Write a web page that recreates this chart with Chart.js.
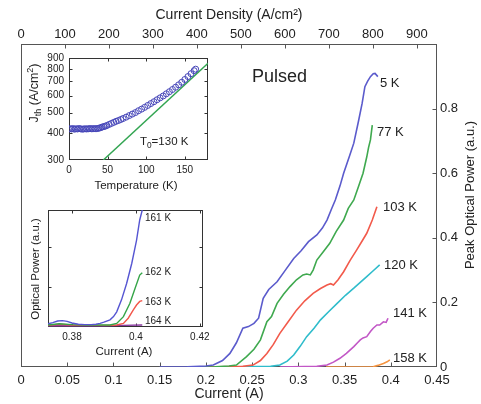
<!DOCTYPE html>
<html><head><meta charset="utf-8">
<script src="https://cdn.jsdelivr.net/npm/chart.js@4/dist/chart.umd.min.js"></script>
<style>
html,body{margin:0;padding:0;background:#fff;}
#wrap{position:relative;width:481px;height:404px;overflow:hidden;background:#fff}
canvas{position:absolute;left:0;top:0}
</style></head><body>
<div id="wrap">
<canvas id="main" width="481" height="404"></canvas>
<canvas id="inset1" width="481" height="404"></canvas>
<canvas id="inset2" width="481" height="404"></canvas>
</div>
<script>
// ================= DATA =================
const currentTicks = [0, 0.05, 0.1, 0.15, 0.2, 0.25, 0.3, 0.35, 0.4, 0.45];
const densityTicks = [0, 100, 200, 300, 400, 500, 600, 700, 800, 900];
const powerTicks = [0, 0.2, 0.4, 0.6, 0.8];
const tempLabels = ['5 K', '77 K', '103 K', '120 K', '141 K', '158 K'];

const cur5K = [0.15, 0.18, 0.20, 0.208, 0.218, 0.226, 0.233, 0.240, 0.246, 0.252, 0.257, 0.262, 0.268, 0.277, 0.286, 0.295, 0.303, 0.311, 0.320, 0.326, 0.331, 0.336, 0.340, 0.345, 0.349, 0.355, 0.360, 0.365, 0.369, 0.372, 0.375, 0.378, 0.381, 0.383, 0.386];
const pow5K = [0, 0.001, 0.003, 0.006, 0.020, 0.042, 0.075, 0.120, 0.125, 0.135, 0.151, 0.213, 0.240, 0.264, 0.300, 0.336, 0.360, 0.388, 0.409, 0.430, 0.455, 0.490, 0.517, 0.560, 0.600, 0.650, 0.693, 0.760, 0.816, 0.868, 0.885, 0.899, 0.908, 0.909, 0.899];

const cur77K = [0.18, 0.21, 0.225, 0.233, 0.244, 0.252, 0.259, 0.266, 0.271, 0.277, 0.284, 0.291, 0.298, 0.305, 0.309, 0.313, 0.316, 0.320, 0.327, 0.334, 0.341, 0.349, 0.354, 0.360, 0.365, 0.370, 0.374, 0.376, 0.378, 0.380];
const pow77K = [0, 0.001, 0.003, 0.006, 0.032, 0.055, 0.084, 0.140, 0.156, 0.197, 0.225, 0.249, 0.270, 0.285, 0.288, 0.285, 0.300, 0.331, 0.357, 0.383, 0.420, 0.455, 0.491, 0.517, 0.558, 0.600, 0.650, 0.680, 0.703, 0.749];

const cur103K = [0.20, 0.24, 0.251, 0.259, 0.266, 0.273, 0.280, 0.289, 0.298, 0.307, 0.316, 0.324, 0.331, 0.335, 0.338, 0.343, 0.349, 0.356, 0.363, 0.369, 0.374, 0.380, 0.385];
const pow103K = [0, 0.002, 0.006, 0.020, 0.042, 0.070, 0.104, 0.140, 0.176, 0.205, 0.228, 0.243, 0.254, 0.258, 0.254, 0.270, 0.295, 0.330, 0.362, 0.390, 0.414, 0.455, 0.496];

const cur120K = [0.22, 0.27, 0.280, 0.288, 0.295, 0.302, 0.309, 0.317, 0.324, 0.333, 0.342, 0.351, 0.360, 0.367, 0.374, 0.381, 0.388];
const pow120K = [0, 0.002, 0.006, 0.018, 0.037, 0.064, 0.094, 0.120, 0.146, 0.172, 0.197, 0.222, 0.244, 0.262, 0.280, 0.298, 0.316];

const cur141K = [0.28, 0.320, 0.331, 0.338, 0.345, 0.352, 0.360, 0.364, 0.367, 0.370, 0.374, 0.378, 0.381, 0.385, 0.388, 0.392, 0.395, 0.397];
const pow141K = [0, 0.002, 0.006, 0.015, 0.027, 0.042, 0.063, 0.075, 0.084, 0.090, 0.094, 0.110, 0.120, 0.130, 0.130, 0.140, 0.138, 0.151];

const cur158K = [0.33, 0.375, 0.381, 0.386, 0.392, 0.396, 0.399];
const pow158K = [0, 0, 0.001, 0.005, 0.011, 0.016, 0.022];

// Inset 1: threshold current density vs temperature
const insetTempTicks = [0, 50, 100, 150];
const insetJTicks = [300, 400, 500, 600, 700, 800, 900];
const insetTemps = [1, 3, 5, 7, 9, 11, 13, 15, 17, 19, 21, 23, 25, 27, 29, 31, 33, 35, 37, 39, 41, 43, 45, 47, 49, 52, 55, 58, 61, 64, 67, 70, 74, 78, 82, 86, 90, 94, 98, 102, 106, 110, 114, 118, 122, 126, 130, 134, 138, 142, 146, 150, 154, 158, 162, 164];
const insetJth = [420, 419, 421, 418, 420, 419, 421, 420, 418, 419, 420, 419, 420, 421, 420, 420, 421, 420, 421, 423, 425, 428, 430, 432, 435, 440, 445, 450, 455, 459, 464, 469, 476, 484, 492, 500, 510, 519, 529, 540, 551, 562, 574, 586, 598, 612, 626, 641, 657, 674, 693, 714, 737, 760, 785, 798];
const fitTemps = [44.5, 180];
const fitJth = [300, 851];

// Inset 2: optical power near threshold
const zoomCurrentTicks = [0.38, 0.4, 0.42];
const zoomPowerTicks = [1, 2];
const zoomLabels = ['161 K', '162 K', '163 K', '164 K'];
const cur161 = [0.3725, 0.374, 0.3755, 0.377, 0.3785, 0.380, 0.382, 0.384, 0.386, 0.3875, 0.3888, 0.3900, 0.3919, 0.3930, 0.3940, 0.3955, 0.3971, 0.3987, 0.4002, 0.4012, 0.4020];
const pow161 = [0.08, 0.11, 0.15, 0.16, 0.14, 0.10, 0.07, 0.06, 0.06, 0.07, 0.09, 0.12, 0.18, 0.26, 0.38, 0.68, 1.09, 1.59, 2.17, 2.68, 2.93];
const cur162 = [0.3725, 0.376, 0.380, 0.384, 0.388, 0.3905, 0.3919, 0.3940, 0.3961, 0.3981, 0.3997, 0.4012, 0.4020];
const pow162 = [0.05, 0.08, 0.06, 0.05, 0.05, 0.05, 0.05, 0.09, 0.26, 0.59, 0.96, 1.30, 1.36];
const cur163 = [0.3725, 0.376, 0.380, 0.385, 0.390, 0.3930, 0.3940, 0.3961, 0.3976, 0.3992, 0.4002, 0.4012, 0.4020];
const pow163 = [0.04, 0.07, 0.05, 0.04, 0.04, 0.04, 0.05, 0.09, 0.22, 0.43, 0.55, 0.64, 0.66];
const cur164 = [0.3725, 0.378, 0.384, 0.390, 0.396, 0.4020];
const pow164 = [0.03, 0.03, 0.03, 0.03, 0.04, 0.05];

// ================= STYLE / LAYOUT =================
const FONT = "'Liberation Sans', Arial, Helvetica, sans-serif";
Chart.defaults.font.family = FONT;
Chart.defaults.color = '#222';
const mainColors = ['#5b5bcc', '#3fa94f', '#f25a4b', '#2fbccb', '#c257c6', '#f59440'];
const zoomColors = ['#5555d2', '#35a548', '#f2564a', '#8a3aa0'];

const pts = (xs, ys) => xs.map((x, i) => ({x: x, y: ys[i]}));
const setTicks = arr => scale => { scale.ticks = arr.map(v => ({value: v})); };
const fmt = v => (v === 0 ? '0' : String(Number(v.toFixed(2))));

const framePlugin = {
  id: 'frame',
  beforeDatasetsDraw(chart, args, o) {
    const {ctx, chartArea: a} = chart;
    ctx.save();
    ctx.strokeStyle = o.color; ctx.lineWidth = 1;
    const L = Math.round(a.left) + 0.5, R = Math.round(a.right) - 0.5;
    const T = Math.round(a.top) + 0.5, B = Math.round(a.bottom) - 0.5;
    ctx.strokeRect(L, T, R - L, B - T);
    ctx.beginPath();
    (o.ticks || []).forEach(cfg => {
      const s = chart.scales[cfg.id];
      s.ticks.forEach(t => {
        const p = Math.round(s.getPixelForValue(t.value)) + 0.5;
        if (s.isHorizontal()) {
          if (p < L + 1 || p > R - 1) return;
          cfg.sides.forEach(side => {
            const y0 = side === 'top' ? T : B, d = side === 'top' ? o.len : -o.len;
            ctx.moveTo(p, y0); ctx.lineTo(p, y0 + d);
          });
        } else {
          if (p < T + 1 || p > B - 1) return;
          cfg.sides.forEach(side => {
            const x0 = side === 'left' ? L : R, d = side === 'left' ? o.len : -o.len;
            ctx.moveTo(x0, p); ctx.lineTo(x0 + d, p);
          });
        }
      });
    });
    ctx.stroke();
    ctx.restore();
  }
};

const textPlugin = {
  id: 'texts',
  afterDraw(chart, args, o) {
    const ctx = chart.ctx;
    (o.items || []).forEach(it => {
      ctx.save();
      ctx.translate(it.x, it.y);
      if (it.rot) ctx.rotate(it.rot);
      const runs = typeof it.text === 'string' ? [{t: it.text}] : it.text;
      let w = 0;
      const ms = runs.map(r => {
        const s = (r.sub || r.sup) ? it.size * 0.72 : it.size;
        ctx.font = (it.weight || 'normal') + ' ' + s + 'px ' + FONT;
        const m = ctx.measureText(r.t).width; w += m;
        return {r: r, s: s, m: m};
      });
      let x = it.align === 'center' ? -w / 2 : (it.align === 'right' ? -w : 0);
      ctx.fillStyle = it.color || '#222';
      ctx.textBaseline = 'middle'; ctx.textAlign = 'left';
      ms.forEach(q => {
        ctx.font = (it.weight || 'normal') + ' ' + q.s + 'px ' + FONT;
        const dy = q.r.sub ? it.size * 0.32 : (q.r.sup ? -it.size * 0.36 : 0);
        ctx.fillText(q.r.t, x, dy); x += q.m;
      });
      ctx.restore();
    });
  }
};

const lineDs = (label, data, color, w) => ({
  label: label, data: data, borderColor: color, backgroundColor: color,
  borderWidth: w, pointRadius: 0, showLine: true, tension: 0, fill: false
});

// ================= MAIN CHART =================
const mainSeries = [[cur5K, pow5K], [cur77K, pow77K], [cur103K, pow103K], [cur120K, pow120K], [cur141K, pow141K], [cur158K, pow158K]];
const labelPos = [[380, 83], [377, 132], [383, 207], [384, 265], [393, 313], [393, 358]];

new Chart(document.getElementById('main'), {
  type: 'scatter',
  data: { datasets: mainSeries.map((s, i) => lineDs(tempLabels[i], pts(s[0], s[1]), mainColors[i], 1.6)) },
  options: {
    responsive: false, animation: false, events: [],
    layout: { padding: { left: 21, top: 0, right: 0, bottom: 0 } },
    plugins: {
      legend: { display: false }, tooltip: { enabled: false },
      frame: { color: '#555', len: 4, ticks: [
        {id: 'x', sides: ['bottom']}, {id: 'x2', sides: ['top']}, {id: 'y', sides: ['right']}
      ]},
      texts: { items: [
        {text: 'Pulsed', x: 252, y: 77, size: 18, align: 'left'},
        ...tempLabels.map((t, i) => ({text: t, x: labelPos[i][0], y: labelPos[i][1], size: 13, align: 'left'})),
        {text: 'Peak Optical Power (a.u.)', x: 470, y: 195, size: 13, align: 'center', rot: -Math.PI / 2}
      ]}
    },
    scales: {
      x: {
        type: 'linear', position: 'bottom', min: 0, max: 0.45,
        afterBuildTicks: setTicks(currentTicks),
        afterFit: s => { s.height = 37; },
        grid: { display: false, drawTicks: false }, border: { display: false },
        ticks: { padding: 6, autoSkip: false, maxRotation: 0, font: { size: 13 }, callback: v => fmt(v) },
        title: { display: true, text: 'Current (A)', font: { size: 14 }, padding: { top: 0, bottom: 1 } }
      },
      x2: {
        type: 'linear', position: 'top', min: 0, max: 946,
        afterBuildTicks: setTicks(densityTicks),
        afterFit: s => { s.height = 44; },
        grid: { display: false, drawTicks: false }, border: { display: false },
        ticks: { padding: 2, autoSkip: false, maxRotation: 0, font: { size: 13 }, callback: v => String(v) },
        title: { display: true, text: 'Current Density (A/cm²)', font: { size: 14 }, padding: { top: 7, bottom: 0 } }
      },
      y: {
        type: 'linear', position: 'right', min: 0, max: 1,
        afterBuildTicks: setTicks(powerTicks),
        afterFit: s => { s.width = 44; },
        grid: { display: false, drawTicks: false }, border: { display: false },
        ticks: { padding: 3, font: { size: 13 }, callback: v => (v === 0 ? '0' : v.toFixed(1)) }
      }
    }
  },
  plugins: [framePlugin, textPlugin]
});

// ================= INSET 1 =================
new Chart(document.getElementById('inset1'), {
  type: 'scatter',
  data: { datasets: [
    { label: 'Jth', data: pts(insetTemps, insetJth), showLine: false, pointStyle: 'circle',
      pointRadius: 3, pointBorderWidth: 1, borderColor: '#4646b8', backgroundColor: 'rgba(0,0,0,0)' },
    lineDs('T0 fit', pts(fitTemps, fitJth), '#33a552', 1.5)
  ]},
  options: {
    responsive: false, animation: false, events: [],
    layout: { padding: { left: 39, top: 58, right: 273, bottom: 214 } },
    plugins: {
      legend: { display: false }, tooltip: { enabled: false },
      frame: { color: '#333', len: 3, ticks: [
        {id: 'x', sides: ['bottom', 'top']}, {id: 'y', sides: ['left', 'right']}
      ]},
      texts: { items: [
        {text: [{t: 'T'}, {t: '0', sub: true}, {t: '=130 K'}], x: 140, y: 142, size: 11.5, align: 'left'},
        {text: 'Temperature (K)', x: 136, y: 186, size: 11.5, align: 'center'},
        {text: [{t: 'J'}, {t: 'th', sub: true}, {t: ' (A/cm'}, {t: '2', sup: true}, {t: ')'}], x: 35, y: 93, size: 12.5, align: 'center', rot: -Math.PI / 2}
      ]}
    },
    scales: {
      x: {
        type: 'linear', position: 'bottom', min: 0, max: 180,
        afterBuildTicks: setTicks(insetTempTicks),
        afterFit: s => { s.height = 30; },
        grid: { display: false, drawTicks: false }, border: { display: false },
        ticks: { padding: 4, autoSkip: false, maxRotation: 0, font: { size: 10 }, callback: v => String(v) }
      },
      y: {
        type: 'logarithmic', position: 'left', min: 300, max: 900,
        afterBuildTicks: setTicks(insetJTicks),
        afterFit: s => { s.width = 30; },
        grid: { display: false, drawTicks: false }, border: { display: false },
        ticks: { padding: 5, autoSkip: false, font: { size: 10 }, callback: v => String(v) }
      }
    }
  },
  plugins: [framePlugin, textPlugin]
});

// ================= INSET 2 =================
const zoomSeries = [[cur161, pow161], [cur162, pow162], [cur163, pow163], [cur164, pow164]];
const zoomLabelPos = [[145, 218], [145, 272], [145, 302], [145, 321]];
new Chart(document.getElementById('inset2'), {
  type: 'scatter',
  data: { datasets: zoomSeries.map((s, i) => lineDs(zoomLabels[i], pts(s[0], s[1]), zoomColors[i], 1.4)) },
  options: {
    responsive: false, animation: false, events: [],
    layout: { padding: { left: 28, top: 210, right: 278, bottom: 52 } },
    plugins: {
      legend: { display: false }, tooltip: { enabled: false },
      frame: { color: '#333', len: 3, ticks: [
        {id: 'x', sides: ['bottom', 'top']}, {id: 'y', sides: ['left', 'right']}
      ]},
      texts: { items: [
        ...zoomLabels.map((t, i) => ({text: t, x: zoomLabelPos[i][0], y: zoomLabelPos[i][1], size: 10, align: 'left'})),
        {text: 'Current (A)', x: 124, y: 352, size: 11.5, align: 'center'},
        {text: 'Optical Power (a.u.)', x: 36, y: 269, size: 11.5, align: 'center', rot: -Math.PI / 2}
      ]}
    },
    scales: {
      x: {
        type: 'linear', position: 'bottom', min: 0.3725, max: 0.421,
        afterBuildTicks: setTicks(zoomCurrentTicks),
        afterFit: s => { s.height = 25; },
        grid: { display: false, drawTicks: false }, border: { display: false },
        ticks: { padding: 4, autoSkip: false, maxRotation: 0, font: { size: 10 }, callback: v => fmt(v) }
      },
      y: {
        type: 'linear', position: 'left', min: 0, max: 2.93,
        afterBuildTicks: setTicks(zoomPowerTicks),
        afterFit: s => { s.width = 20; },
        grid: { display: false, drawTicks: false }, border: { display: false },
        ticks: { display: false }
      }
    }
  },
  plugins: [framePlugin, textPlugin]
});
</script>
</body></html>
